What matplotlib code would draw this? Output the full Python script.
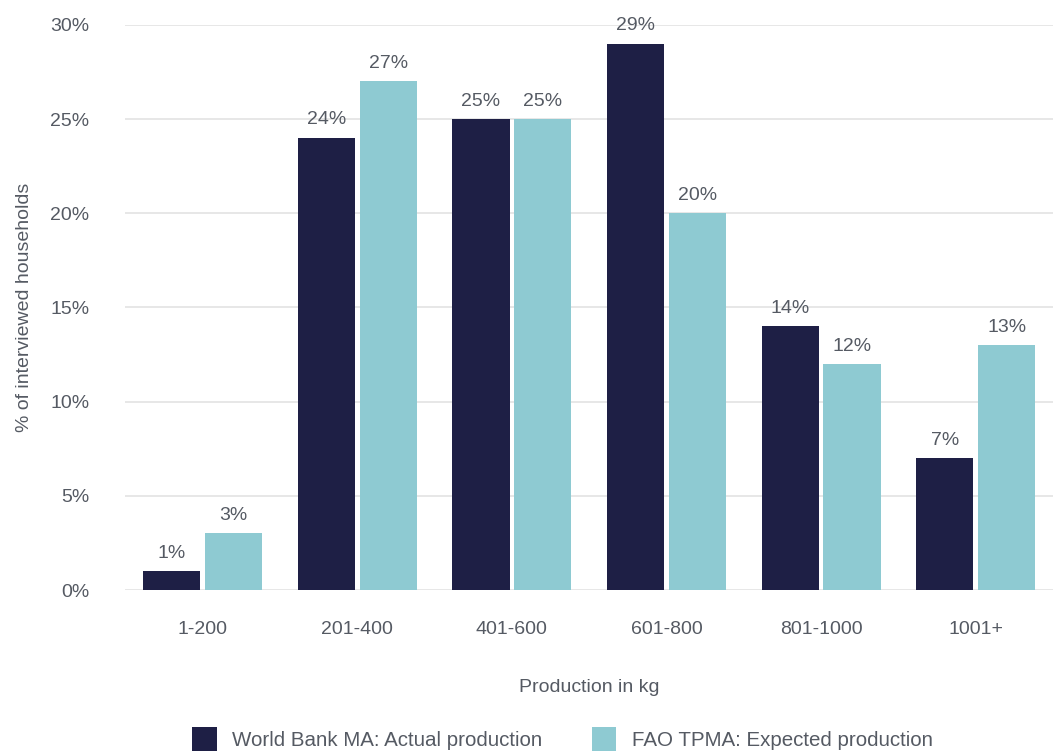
import numpy as np
import matplotlib.pyplot as plt

plt.rcParams["font.family"] = ["Liberation Sans", "DejaVu Sans"]

categories = ["1-200", "201-400", "401-600", "601-800", "801-1000", "1001+"]
actual = [1, 24, 25, 29, 14, 7]
expected = [3, 27, 25, 20, 12, 13]
series_names = ["World Bank MA: Actual production", "FAO TPMA: Expected production"]

NAVY = "#1e1f45"
TEAL = "#8ecad2"
TEXT = "#555a63"
FS = 14

fig = plt.figure(figsize=(10.53, 7.54), dpi=100)
ax = fig.add_axes([0.119, 0.2175, 0.881, 0.7495])

x = np.arange(len(categories))
w = 0.37
b1 = ax.bar(x - 0.2, actual, w, color=NAVY, label=series_names[0], zorder=3)
b2 = ax.bar(x + 0.2, expected, w, color=TEAL, label=series_names[1], zorder=3)

for bars, vals in ((b1, actual), (b2, expected)):
    for rect, v in zip(bars, vals):
        ax.text(rect.get_x() + rect.get_width() / 2, v + 0.5, f"{v}%",
                ha="center", va="bottom", fontsize=FS, color=TEXT)

ax.set_xlim(-0.5, 5.5)
ax.set_ylim(0, 30)
ax.set_yticks(range(0, 31, 5))
ax.set_yticklabels([f"{t}%" for t in range(0, 31, 5)])
ax.set_xticks(x)
ax.set_xticklabels(categories)
ax.tick_params(axis="both", length=0, labelsize=FS, labelcolor=TEXT)
ax.tick_params(axis="y", pad=26)
ax.tick_params(axis="x", pad=22)

ax.grid(axis="y", color="#e3e3e3", linewidth=1.2, zorder=0)
for s in ax.spines.values():
    s.set_visible(False)

ax.set_xlabel("Production in kg", fontsize=FS, color=TEXT, labelpad=30)
ax.set_ylabel("% of interviewed households", fontsize=FS, color=TEXT, labelpad=12)

leg = fig.legend(loc="lower center", bbox_to_anchor=(0.534, -0.02), ncol=2, frameon=False,
                 fontsize=14.8, handlelength=1.2, handleheight=1.4, columnspacing=2.4,
                 handletextpad=0.75)
for t in leg.get_texts():
    t.set_color(TEXT)

fig.savefig("out.png", dpi=100)
